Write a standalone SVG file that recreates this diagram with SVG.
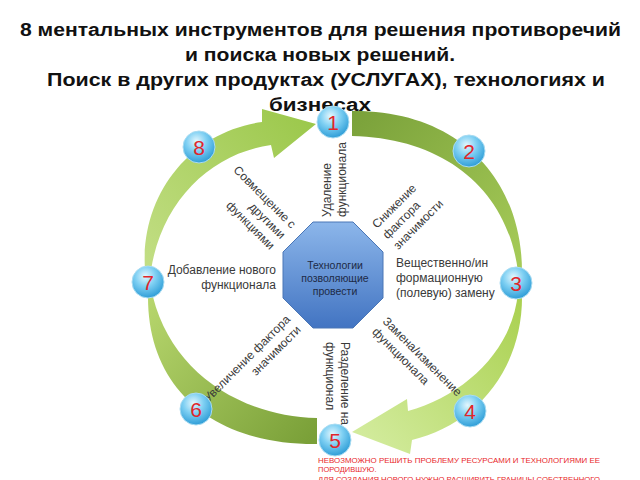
<svg xmlns="http://www.w3.org/2000/svg" width="640" height="480" viewBox="0 0 640 480">
<defs>
<linearGradient id="gA" x1="352" y1="115" x2="520" y2="270" gradientUnits="userSpaceOnUse"><stop offset="0" stop-color="#7aa13a"/><stop offset="1" stop-color="#a6cb58"/></linearGradient>
<linearGradient id="gB" x1="520" y1="290" x2="360" y2="435" gradientUnits="userSpaceOnUse"><stop offset="0" stop-color="#a9d04f"/><stop offset="1" stop-color="#d2eb9c"/></linearGradient>
<linearGradient id="gC" x1="150" y1="290" x2="317" y2="432" gradientUnits="userSpaceOnUse"><stop offset="0" stop-color="#b8d76e"/><stop offset="1" stop-color="#7aa038"/></linearGradient>
<linearGradient id="gD" x1="148" y1="270" x2="312" y2="124" gradientUnits="userSpaceOnUse"><stop offset="0" stop-color="#c2de84"/><stop offset="1" stop-color="#9cc84c"/></linearGradient>
<linearGradient id="gOct" x1="0" y1="0" x2="0" y2="1"><stop offset="0" stop-color="#8cb6ea"/><stop offset="1" stop-color="#4274c2"/></linearGradient>
<radialGradient id="gCirc" cx="0.42" cy="0.32" r="0.7"><stop offset="0" stop-color="#e4f7fe"/><stop offset="0.45" stop-color="#7fd0f3"/><stop offset="1" stop-color="#2b9bd6"/></radialGradient>
<style>
.title{font-family:"Liberation Sans",Arial,sans-serif;font-weight:bold;font-size:18px;fill:#111;text-anchor:middle}
.lbl{font-family:"Liberation Sans",Arial,sans-serif;font-size:12px;fill:#3a3a3a}
.oct{font-family:"Liberation Sans",Arial,sans-serif;font-size:10.5px;fill:#1d2a46;text-anchor:middle}
.num{font-family:"Liberation Sans",Arial,sans-serif;font-size:21px;fill:#e0262b;text-anchor:middle}
.red{font-family:"Liberation Sans",Arial,sans-serif;font-size:7.5px;fill:#e8262a}
.circ{fill:url(#gCirc);stroke:#a9dcf2;stroke-width:1}
</style>
</defs>
<rect width="640" height="480" fill="#ffffff"/>
<g id="title">
<text class="title" x="320.5" y="36" textLength="601" lengthAdjust="spacingAndGlyphs">8 ментальных инструментов для решения противоречий</text>
<text class="title" x="320" y="61" textLength="270" lengthAdjust="spacingAndGlyphs">и поиска новых решений.</text>
<text class="title" x="326" y="86" textLength="558" lengthAdjust="spacingAndGlyphs">Поиск в других продуктах (УСЛУГАХ), технологиях и</text>
<text class="title" x="320" y="111" textLength="102" lengthAdjust="spacingAndGlyphs">бизнесах</text>
</g>
<g id="connectors">
<path d="M352,111 C460,110 522,180 522,272 L518,272 C508,190 445,138 352,136 Z" fill="url(#gA)"/>
<path d="M522,292 C524,370 475,425 412,440 L410,454 L352,432 L407,399 L408,411 C465,395 513,350 518,292 Z" fill="url(#gB)"/>
<path d="M148,297 C148,390 215,445 317,444 L317,418 C240,416 172,372 153,297 Z" fill="url(#gC)"/>
<path d="M145,270 C140,195 190,132 262,122 L262,109 L316,124 L274,158 L271,145 C212,153 162,200 151,270 Z" fill="url(#gD)"/>
</g>
<g id="center">
<polygon points="313,222 353,222 383,252 383,298 353,328 313,328 283,298 283,252" fill="url(#gOct)" stroke="#4a76b6" stroke-width="1"/>
<text class="oct" x="335" y="268.5">Технологии</text>
<text class="oct" x="335" y="282">позволяющие</text>
<text class="oct" x="335" y="295">провести</text>
</g>
<g id="labels">
<text class="lbl" transform="translate(331,217) rotate(-90)"><tspan x="0" y="0">Удаление</tspan><tspan x="0" y="15">функционала</tspan></text>
<text class="lbl" transform="translate(377,229) rotate(-45)"><tspan x="0" y="0">Снижение</tspan><tspan x="0" y="15">фактора</tspan><tspan x="0" y="30">значимости</tspan></text>
<text class="lbl" x="396" y="267">Вещественно/ин</text>
<text class="lbl" x="396" y="282">формационную</text>
<text class="lbl" x="396" y="297">(полевую) замену</text>
<text class="lbl" transform="translate(382,322) rotate(45)"><tspan x="0" y="0">Замена/изменение</tspan><tspan x="0" y="15">функционала</tspan></text>
<text class="lbl" transform="translate(341,342) rotate(90)"><tspan x="0" y="0">Разделение на</tspan><tspan x="0" y="15">функционал</tspan></text>
<text class="lbl" text-anchor="end" transform="translate(291,320) rotate(-45)"><tspan x="0" y="0">Увеличение фактора</tspan><tspan x="0" y="15">значимости</tspan></text>
<text class="lbl" text-anchor="end" x="276" y="274">Добавление нового</text>
<text class="lbl" text-anchor="end" x="276" y="289">функционала</text>
<text class="lbl" text-anchor="end" transform="translate(291,229) rotate(45)"><tspan x="0" y="0">Совмещение с</tspan><tspan x="0" y="15">другими</tspan><tspan x="0" y="30">функциями</tspan></text>
</g>
<g id="n1"><circle class="circ" cx="333" cy="122" r="16"/><text class="num" x="333" y="129.5">1</text></g>
<g id="n2"><circle class="circ" cx="469" cy="151" r="16"/><text class="num" x="469" y="158.5">2</text></g>
<g id="n3"><circle class="circ" cx="516" cy="283" r="16"/><text class="num" x="516" y="290.5">3</text></g>
<g id="n4"><circle class="circ" cx="470" cy="411" r="16"/><text class="num" x="470" y="418.5">4</text></g>
<g id="n5"><circle class="circ" cx="335" cy="440" r="16"/><text class="num" x="335" y="447.5">5</text></g>
<g id="n6"><circle class="circ" cx="196" cy="409" r="16"/><text class="num" x="196" y="416.5">6</text></g>
<g id="n7"><circle class="circ" cx="148" cy="282" r="16"/><text class="num" x="148" y="289.5">7</text></g>
<g id="n8"><circle class="circ" cx="199" cy="147" r="16"/><text class="num" x="199" y="154.5">8</text></g>
<g id="note">
<text class="red" x="318" y="463" textLength="282" lengthAdjust="spacingAndGlyphs">НЕВОЗМОЖНО РЕШИТЬ ПРОБЛЕМУ РЕСУРСАМИ И ТЕХНОЛОГИЯМИ ЕЕ</text>
<text class="red" x="318" y="471.5">ПОРОДИВШУЮ.</text>
<text class="red" x="318" y="481.5" textLength="282" lengthAdjust="spacingAndGlyphs">ДЛЯ СОЗДАНИЯ НОВОГО НУЖНО РАСШИРИТЬ ГРАНИЦЫ СОБСТВЕННОГО</text>
</g>
</svg>
